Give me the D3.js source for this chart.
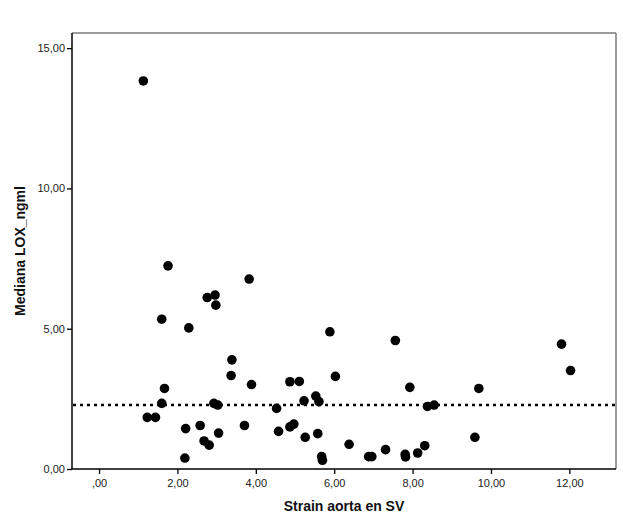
<!DOCTYPE html>
<html><head><meta charset="utf-8">
<script src="https://cdn.jsdelivr.net/npm/d3@7"></script>
<style>body{margin:0;background:#fff;} svg{display:block;}</style>
</head><body>
<script>
const strainX = [1.13,1.76,3.83,2.76,2.96,2.98,1.60,2.29,3.39,3.37,3.89,1.67,1.60,2.93,3.03,1.23,1.44,2.21,2.58,3.71,2.68,2.81,3.05,2.19,4.53,4.58,4.87,5.11,4.87,4.97,5.89,7.56,6.03,7.93,9.69,5.23,5.53,5.61,8.38,8.55,5.26,5.58,9.59,6.38,5.68,5.70,6.88,6.96,7.31,7.81,7.82,8.13,8.31,11.80,12.03];
const loxY = [13.83,7.24,6.77,6.11,6.20,5.84,5.34,5.03,3.89,3.33,3.01,2.87,2.34,2.34,2.28,1.84,1.84,1.44,1.55,1.55,1.00,0.85,1.28,0.39,2.16,1.34,3.11,3.12,1.50,1.60,4.89,4.58,3.30,2.91,2.87,2.43,2.60,2.40,2.23,2.28,1.13,1.26,1.13,0.88,0.44,0.31,0.44,0.44,0.69,0.52,0.43,0.57,0.83,4.45,3.51];
const medianLine = 2.28;
const xTicks = [0,2,4,6,8,10,12];
const yTicks = [0,5,10,15];
const xTitle = "Strain aorta en SV";
const yTitle = "Mediana LOX_ngml";

const W = 623, H = 522;
const L = 72, R = 616, T = 33, B = 469;
const svg = d3.select("body").append("svg").attr("width", W).attr("height", H);
const x = d3.scaleLinear().domain([-0.69, 13.19]).range([L, R]);
const y = d3.scaleLinear().domain([0, 15.54]).range([B, T]);
const fmt = d => d === 0 ? ",00" : d.toFixed(2).replace(".", ",");
const fmtY = d => d.toFixed(2).replace(".", ",");

// frame top/right
svg.append("line").attr("x1", L).attr("x2", R).attr("y1", T).attr("y2", T).attr("stroke", "#7a7a7a").attr("stroke-width", 1.5);
svg.append("line").attr("x1", R).attr("x2", R).attr("y1", T).attr("y2", B).attr("stroke", "#7a7a7a").attr("stroke-width", 1.5);

const xAxis = svg.append("g").attr("transform", `translate(0,${B})`)
  .call(d3.axisBottom(x).tickValues(xTicks).tickFormat(fmt).tickSize(5).tickPadding(5));
const yAxis = svg.append("g").attr("transform", `translate(${L},0)`)
  .call(d3.axisLeft(y).tickValues(yTicks).tickFormat(fmtY).tickSize(5).tickPadding(2));
[xAxis, yAxis].forEach(g => {
  g.select(".domain").attr("stroke", "#000").attr("stroke-width", 1.5);
  g.selectAll(".tick line").attr("stroke", "#000").attr("stroke-width", 1.3);
  g.selectAll("text").attr("font-family", "Liberation Sans, Arial, sans-serif").attr("font-size", 11).attr("fill", "#222");
});
// extend x-axis domain line to left edge
xAxis.select(".domain").attr("d", `M${L},0H${R}`);
yAxis.select(".domain").attr("d", `M0,${B}V${T}`);

// median dotted line
svg.append("line").attr("x1", L + 1).attr("x2", R - 1).attr("y1", y(medianLine)).attr("y2", y(medianLine))
  .attr("stroke", "#000").attr("stroke-width", 2.6).attr("stroke-dasharray", "3,4");

// points
svg.append("g").selectAll("circle").data(strainX.map((v, i) => [v, loxY[i]])).join("circle")
  .attr("cx", d => x(d[0])).attr("cy", d => y(d[1])).attr("r", 4.8).attr("fill", "#000");

svg.append("text").attr("x", (L + R) / 2).attr("y", 511).attr("text-anchor", "middle")
  .attr("font-family", "Liberation Sans, Arial, sans-serif").attr("font-weight", "bold").attr("font-size", 14).attr("fill", "#111").text(xTitle);
svg.append("text").attr("transform", `translate(25,${(T + B) / 2}) rotate(-90)`).attr("text-anchor", "middle")
  .attr("font-family", "Liberation Sans, Arial, sans-serif").attr("font-weight", "bold").attr("font-size", 14).attr("fill", "#111").text(yTitle);
</script>
</body></html>
